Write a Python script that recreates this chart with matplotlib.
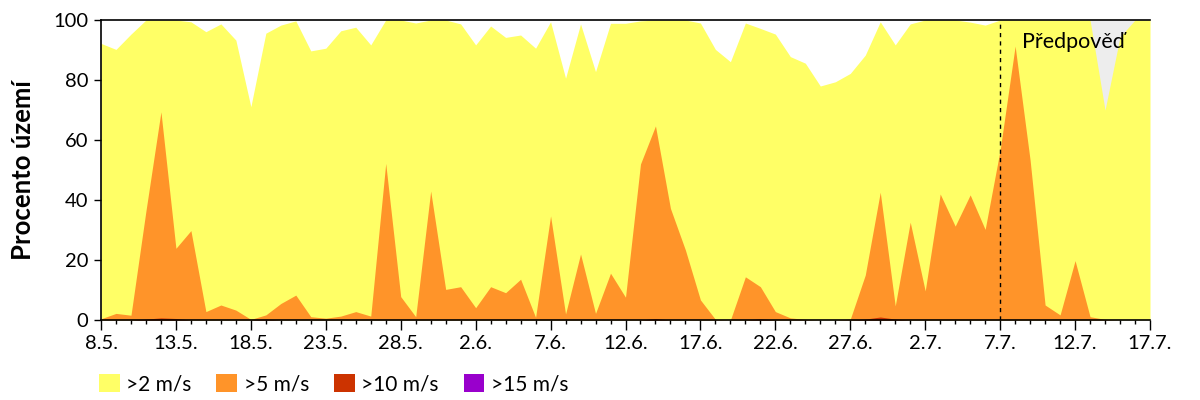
import matplotlib
matplotlib.use("Agg")
import matplotlib.pyplot as plt
from matplotlib.patches import Patch
import numpy as np

plt.rcParams['font.family'] = ['Lato', 'DejaVu Sans']

# day index 0 = 8.5., 70 = 17.7.
days = list(range(71))
tick_labels = ["8.5.", "13.5.", "18.5.", "23.5.", "28.5.", "2.6.", "7.6.", "12.6.",
               "17.6.", "22.6.", "27.6.", "2.7.", "7.7.", "12.7.", "17.7."]

over2 = [92.2, 90.2, 95.3, 100, 100, 100, 99.4, 96.1, 98.7, 93.3,
         71.1, 95.6, 98.3, 99.7, 89.7, 90.6, 96.4, 97.6, 91.7, 100,
         100, 99.0, 100, 100, 98.7, 91.7, 98.0, 94.2, 95.0, 90.6,
         99.4, 80.6, 98.7, 82.8, 98.9, 98.9, 99.7, 100, 100, 100,
         99.0, 90.2, 86.1, 99.0, 97.2, 95.3, 87.8, 85.6, 78.0, 79.4,
         82.2, 88.3, 99.4, 91.7, 98.7, 100, 100, 100, 99.3, 98.3,
         100, 100, 100, 100, 100, 100, 100, 70.0, 94.4, 100, 100]

over5 = [0.4, 2.2, 1.6, 36.4, 69.4, 23.9, 29.8, 2.8, 5.0, 3.3,
         0.2, 1.7, 5.5, 8.3, 1.1, 0.6, 1.3, 2.8, 1.3, 52.2,
         7.8, 1.1, 43.0, 10.2, 11.1, 4.1, 11.1, 9.1, 13.6, 0.9,
         34.7, 2.0, 22.0, 2.2, 15.6, 7.6, 52.0, 64.7, 37.2, 23.3,
         6.7, 0.2, 0.0, 14.4, 11.1, 2.8, 0.7, 0.2, 0.0, 0.0,
         0.3, 15.0, 42.6, 4.7, 32.6, 9.7, 42.0, 31.3, 41.7, 30.2,
         56.7, 91.3, 53.3, 5.0, 1.7, 19.8, 1.1, 0.2, 0.0, 0.0, 0.0]

over10 = [0, 0, 0, 0.3, 0.7, 0.5, 0, 0, 0, 0,
          0, 0.3, 0, 0, 0, 0, 0, 0, 0, 0,
          0, 0, 0, 0, 0, 0, 0, 0, 0, 0,
          0, 0, 0, 0, 0, 0, 0, 0.5, 0, 0,
          0, 0, 0, 0, 0.4, 0, 0, 0, 0, 0,
          0, 0.3, 1.0, 0.3, 0, 0, 0, 0, 0, 0,
          0, 0, 0, 0, 0, 0, 0, 0, 0, 0, 0]

over15 = [0] * 71

forecast_start = 60
series_names = [">2 m/s", ">5 m/s", ">10 m/s", ">15 m/s"]
colors = ["#FFFF66", "#FF9429", "#CC3300", "#9900CC"]

fig = plt.figure(figsize=(12, 4), dpi=100)
ax = fig.add_axes([101/1200, 80/400, 1049/1200, 300/400])

x = np.array(days)
ax.axvspan(forecast_start, days[-1], color="#EDEDED", lw=0, zorder=0)
for vals, c in zip([over2, over5, over10, over15], colors):
    ax.fill_between(x, 0, vals, color=c, lw=0, zorder=1)

ax.axvline(forecast_start, color="black", ls=(0, (3, 3)), lw=1, zorder=3)
ax.text(forecast_start + 1.45, 92.5, "Předpověď", fontsize=15.5, ha="left", va="center", zorder=4)

ax.set_xlim(days[0], days[-1])
ax.set_ylim(0, 100)
ax.set_xticks(days[::5])
ax.set_xticklabels(tick_labels, fontsize=14.5)
ax.set_xticks(days, minor=True)
ax.set_yticks([0, 20, 40, 60, 80, 100])
ax.tick_params(axis="y", labelsize=14.5, length=5, width=1, direction="out", pad=4)
ax.tick_params(axis="x", which="major", length=7, width=1, direction="out", pad=4)
ax.tick_params(axis="x", which="minor", length=3, width=1, direction="out")
ax.spines["right"].set_visible(False)
for s in ["left", "bottom", "top"]:
    ax.spines[s].set_linewidth(1.2)

ax.set_ylabel("Procento území", fontsize=18.5, fontweight="bold", labelpad=13)

handles = [Patch(facecolor=c, edgecolor="none") for c in colors]
fig.legend(handles, series_names, loc="center left", bbox_to_anchor=(99/1200, 1 - 384/400),
           ncol=4, frameon=False, fontsize=15, handlelength=1.0, handleheight=1.0,
           handletextpad=0.3, columnspacing=1.2, borderaxespad=0, borderpad=0)

fig.savefig("out.png", dpi=100)
